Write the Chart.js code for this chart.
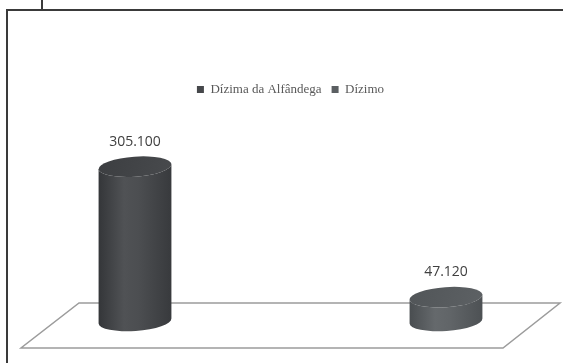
<!DOCTYPE html>
<html>
<head>
<meta charset="utf-8">
<script src="https://cdn.jsdelivr.net/npm/chart.js@4.4.0/dist/chart.umd.min.js"></script>
<style>
  html, body { margin: 0; padding: 0; background: #fff; }
  #wrap { position: relative; width: 563px; height: 363px; overflow: hidden; }
  #frame { position: absolute; left: 6px; top: 9px; right: -4px; bottom: -4px;
           border-top: 2px solid #3a3a3a; border-left: 2px solid #3a3a3a; }
  #tick { position: absolute; left: 41px; top: 0; width: 2px; height: 10px; background: #3a3a3a; }
  canvas { position: absolute; left: 0; top: 0; }
</style>
</head>
<body>
<div id="wrap">
  <canvas id="chart" width="563" height="363"></canvas>
  <div id="frame"></div>
  <div id="tick"></div>
</div>
<script>
const categories = ['Dízima da Alfândega', 'Dízimo'];
const seriesNames = ['Dízima da Alfândega', 'Dízimo'];
const alfandegaValues = [305100, null];
const dizimoValues = [null, 47120];
const valueLabels = ['305.100', '47.120'];

const colors = ['#46484b', '#5b5f62'];

// desenha os cilindros e o "chão" 3D
const cylinders = {
    id: 'cylinders',
    beforeDatasetsDraw(chart) {
        const ctx = chart.ctx;
        const area = chart.chartArea;

        // chão
        ctx.save();
        ctx.strokeStyle = '#9c9c9c';
        ctx.lineWidth = 1.5;
        ctx.beginPath();
        ctx.moveTo(area.left - 56, area.bottom - 18);
        ctx.lineTo(area.right + 114, area.bottom - 18);
        ctx.lineTo(area.right + 57, area.bottom + 27);
        ctx.lineTo(area.left - 114, area.bottom + 27);
        ctx.closePath();
        ctx.stroke();
        ctx.restore();

        chart.data.datasets.forEach((ds, di) => {
            const meta = chart.getDatasetMeta(di);
            meta.data.forEach((bar, i) => {
                if (ds.data[i] == null) return;
                const cx = bar.x;
                const rx = bar.width / 2;
                const ry = 10;
                const top = bar.y;
                const base = bar.base;
                const tilt = -0.07;
                const base_col = colors[di];

                ctx.save();
                const g = ctx.createLinearGradient(cx - rx, 0, cx + rx, 0);
                g.addColorStop(0, shade(base_col, -18));
                g.addColorStop(0.35, shade(base_col, 10));
                g.addColorStop(0.55, shade(base_col, 6));
                g.addColorStop(1, shade(base_col, -14));
                ctx.fillStyle = g;
                ctx.beginPath();
                ctx.ellipse(cx, top, rx, ry, tilt, Math.PI, 0, true);
                ctx.ellipse(cx, base, rx, ry, tilt, 0, Math.PI, false);
                ctx.closePath();
                ctx.fill();

                // tampa
                const gt = ctx.createLinearGradient(cx - rx, top - ry, cx + rx, top + ry);
                gt.addColorStop(0, shade(base_col, -10));
                gt.addColorStop(1, shade(base_col, 2));
                ctx.fillStyle = gt;
                ctx.beginPath();
                ctx.ellipse(cx, top, rx, ry, tilt, 0, Math.PI * 2);
                ctx.fill();
                ctx.restore();

                // rótulo
                ctx.save();
                ctx.fillStyle = '#404040';
                ctx.font = '14px "Open Sans", sans-serif';
                ctx.textAlign = 'center';
                ctx.textBaseline = 'middle';
                ctx.fillText(valueLabels[i], cx, top - ry - 15);
                ctx.restore();
            });
        });
        return false;
    }
};

function shade(hex, amt) {
    const n = parseInt(hex.slice(1), 16);
    const r = Math.max(0, Math.min(255, (n >> 16) + amt));
    const g = Math.max(0, Math.min(255, ((n >> 8) & 255) + amt));
    const b = Math.max(0, Math.min(255, (n & 255) + amt));
    return `rgb(${r},${g},${b})`;
}

new Chart(document.getElementById('chart'), {
    type: 'bar',
    data: {
        labels: categories,
        datasets: [
            { label: seriesNames[0], data: alfandegaValues, backgroundColor: colors[0], skipNull: true, barThickness: 73 },
            { label: seriesNames[1], data: dizimoValues, backgroundColor: colors[1], skipNull: true, barThickness: 73 }
        ]
    },
    options: {
        responsive: false,
        animation: false,
        layout: { padding: { top: 73, left: 135, right: 117, bottom: 42 } },
        plugins: {
            legend: {
                position: 'top',
                labels: {
                    boxWidth: 7,
                    boxHeight: 7,
                    padding: 10,
                    color: '#595959',
                    font: { family: '"Liberation Serif", serif', size: 13 }
                }
            },
            tooltip: { enabled: false }
        },
        scales: {
            x: { display: false, offset: false },
            y: { display: false, min: 0, max: 425000 }
        }
    },
    plugins: [cylinders]
});
</script>
</body>
</html>
